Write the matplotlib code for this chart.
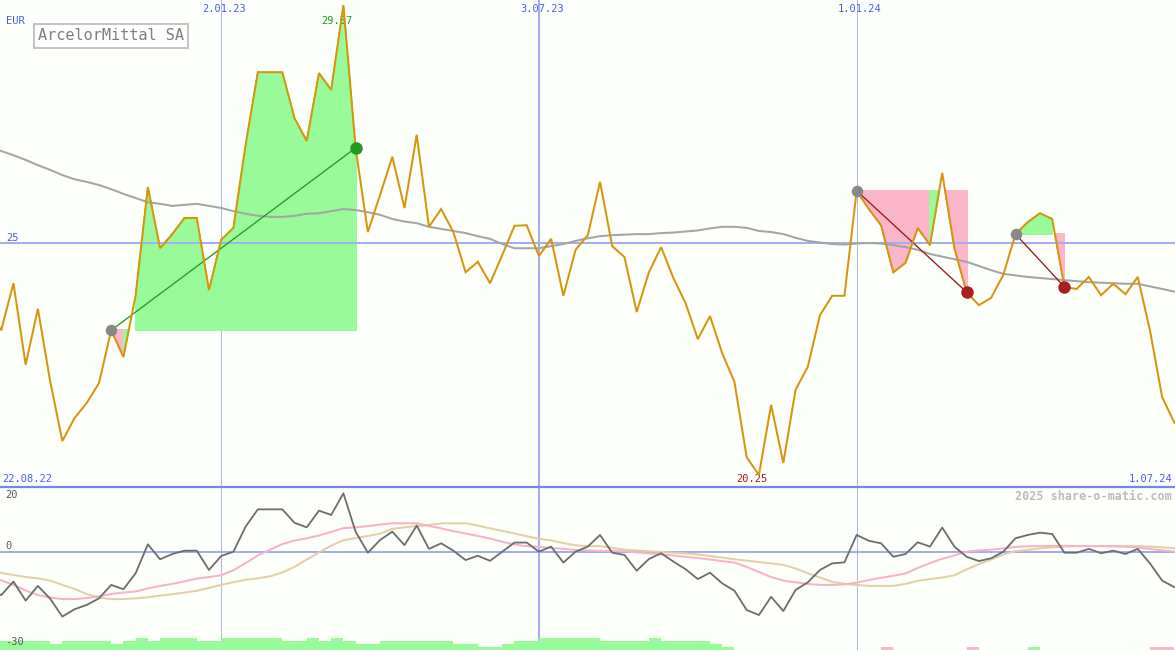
import matplotlib
matplotlib.use("Agg")
import matplotlib.pyplot as plt
import numpy as np
import pandas as pd
from matplotlib.lines import Line2D
from matplotlib.transforms import blended_transform_factory, offset_copy

# ---------------- data ----------------
dates = pd.date_range("2022-08-22", periods=98, freq="7D")

price = [23.70, 23.33, 24.23, 22.67, 23.74, 22.36, 21.21, 21.65, 21.94, 22.32,
         23.33, 22.82, 24.00, 26.07, 24.90, 25.17, 25.48, 25.48, 24.10, 25.06,
         25.29, 26.88, 28.27, 28.27, 28.27, 27.39, 26.95, 28.25, 27.93, 29.55,
         26.82, 25.21, 25.92, 26.65, 25.67, 27.07, 25.31, 25.65, 25.21, 24.44,
         24.64, 24.23, 24.77, 25.33, 25.34, 24.75, 25.08, 23.99, 24.87, 25.15,
         26.17, 24.94, 24.73, 23.68, 24.44, 24.92, 24.33, 23.85, 23.16, 23.60,
         22.89, 22.34, 20.90, 20.56, 21.90, 20.79, 22.19, 22.63, 23.62, 23.99,
         23.99, 26.00, 25.65, 25.34, 24.44, 24.62, 25.29, 24.96, 26.34, 24.90,
         24.06, 23.81, 23.95, 24.39, 25.17, 25.40, 25.57, 25.46, 24.16, 24.12,
         24.35, 24.00, 24.22, 24.02, 24.35, 23.33, 22.05, 21.56]

moving_avg = [26.84, 26.76, 26.68, 26.59, 26.49, 26.40, 26.30, 26.22, 26.17, 26.11,
              26.03, 25.94, 25.86, 25.78, 25.75, 25.71, 25.73, 25.75, 25.71, 25.67,
              25.61, 25.56, 25.52, 25.50, 25.50, 25.52, 25.56, 25.57, 25.61, 25.65,
              25.63, 25.59, 25.54, 25.46, 25.41, 25.38, 25.31, 25.27, 25.23, 25.19,
              25.13, 25.08, 24.98, 24.90, 24.90, 24.90, 24.94, 24.98, 25.04, 25.09,
              25.13, 25.15, 25.16, 25.17, 25.17, 25.19, 25.20, 25.22, 25.24, 25.28,
              25.31, 25.31, 25.29, 25.23, 25.21, 25.17, 25.10, 25.04, 25.01, 24.98,
              24.97, 24.99, 25.00, 24.99, 24.96, 24.92, 24.87, 24.79, 24.74, 24.69,
              24.64, 24.56, 24.48, 24.41, 24.38, 24.35, 24.33, 24.31, 24.29, 24.27,
              24.25, 24.24, 24.23, 24.22, 24.22, 24.17, 24.12, 24.07]

osc_gray = [-15.1, -17.1, -11.8, -19.3, -13.5, -18.5, -25.6, -22.7, -21.0, -18.4,
            -13.1, -14.8, -8.5, 2.9, -3.0, -0.9, 0.4, 0.4, -7.2, -1.7,
            0.0, 9.9, 16.7, 16.7, 16.7, 11.4, 9.6, 16.2, 14.5, 23.0,
            7.9, -0.4, 4.6, 7.9, 2.6, 10.3, 1.1, 3.3, 0.4, -3.3,
            -1.6, -3.6, 0.0, 3.6, 3.6, 0.0, 2.0, -4.3, 0.0, 2.0,
            6.6, -0.4, -1.3, -7.5, -2.9, -0.6, -3.9, -6.9, -10.8, -8.3,
            -12.5, -15.4, -23.0, -25.0, -17.8, -23.4, -15.1, -12.1, -7.2, -4.6,
            -4.2, 6.6, 4.3, 3.3, -2.0, -0.9, 3.7, 2.0, 9.5, 2.0,
            -2.0, -3.7, -2.6, 0.0, 5.3, 6.6, 7.5, 7.0, -0.4, -0.4,
            1.1, -0.6, 0.4, -0.9, 1.1, -4.6, -11.4, -14.0]

osc_pink = [-10.0, -11.3, -13.1, -15.3, -17.1, -18.1, -18.7, -18.7, -18.3, -17.6,
            -16.7, -16.1, -15.7, -14.5, -13.5, -12.7, -11.7, -10.6, -10.0, -9.3,
            -7.3, -4.5, -1.5, 0.8, 3.0, 4.4, 5.3, 6.4, 7.8, 9.3,
            9.6, 10.1, 10.7, 11.2, 11.2, 11.2, 10.2, 9.2, 8.1, 7.2,
            6.2, 5.2, 3.9, 2.8, 2.2, 1.9, 1.5, 1.1, 0.7, 0.5,
            0.3, 0.3, 0.2, -0.3, -0.7, -1.1, -1.5, -2.0, -2.5, -3.1,
            -3.7, -4.3, -6.0, -8.0, -10.0, -11.4, -12.1, -12.7, -13.1, -13.1,
            -12.9, -12.2, -11.2, -10.3, -9.5, -8.6, -6.4, -4.5, -2.8, -1.5,
            0.0, 0.5, 0.8, 1.3, 1.9, 2.1, 2.2, 2.3, 2.3, 2.2,
            2.2, 2.2, 2.1, 2.0, 1.7, 1.1, 0.5, 0.0]

osc_tan = [-7.4, -8.4, -9.2, -10.0, -10.5, -11.4, -13.1, -14.7, -16.7, -18.1,
           -18.7, -18.7, -18.4, -18.0, -17.3, -16.8, -16.1, -15.4, -14.3, -13.1,
           -12.0, -11.1, -10.5, -9.7, -8.2, -6.0, -3.1, -0.3, 2.4, 4.5,
           5.4, 6.2, 7.1, 9.0, 9.6, 10.1, 10.5, 11.2, 11.2, 11.2,
           10.3, 9.2, 8.2, 7.2, 6.1, 5.1, 4.4, 3.4, 2.5, 2.2,
           2.2, 1.5, 0.8, 0.5, 0.2, -0.1, -0.4, -0.7, -1.1, -1.7,
           -2.3, -3.0, -3.5, -4.1, -4.6, -5.2, -6.6, -8.5, -10.2, -11.9,
           -12.7, -13.1, -13.5, -13.5, -13.5, -12.7, -11.5, -10.8, -10.2, -9.3,
           -7.0, -4.9, -3.1, -1.1, 0.2, 0.7, 1.3, 1.7, 2.0, 2.2,
           2.2, 2.2, 2.2, 2.2, 2.2, 2.0, 1.7, 1.4]

signal_bars = [3, 3, 3, 3, 3, 2, 3, 3, 3, 3,
               2, 3, 4, 3, 4, 4, 4, 3, 3, 4,
               4, 4, 4, 4, 3, 3, 4, 3, 4, 3,
               2, 2, 3, 3, 3, 3, 3, 3, 2, 2,
               1, 1, 2, 3, 3, 4, 4, 4, 4, 4,
               3, 3, 3, 3, 4, 3, 3, 3, 3, 2,
               1, 0, 0, 0, 0, 0, 0, 0, 0, 0,
               0, 0, 0, -1, 0, 0, 0, 0, 0, 0,
               -1, 0, 0, 0, 0, 1, 0, 0, 0, 0,
               0, 0, 0, 0, 0, -1, -1, 0]

trade_entries = [10, 71, 84]
trade_exits = [30, 80, 88]

title = "ArcelorMittal SA"
currency = "EUR"
ref_level = 25
high_value = 29.57
low_value = 20.25
marker_dates = ["2023-01-02", "2023-07-03", "2024-01-01"]
osc_labels = [20, 0]
osc_bottom_label = "-30"
watermark = "2025 share-o-matic.com"

# ---------------- style ----------------
W, H = 1175, 650
BG = "#fcfffa"
BLUE_TXT = "#4b5cf0"
GRID_BLUE = "#a3adf2"
SEP_BLUE = "#7585ea"
THIN_V = "#b4b8d8"
PRICE_C = "#d8940a"
MA_C = "#a4a4a4"
GREEN_F = "#98fa98"
PINK_F = "#fbb6ca"
MONO = "DejaVu Sans Mono"
PX = 0.72  # points per pixel at 100 dpi

fig = plt.figure(figsize=(W / 100, H / 100), dpi=100)
fig.patch.set_facecolor(BG)

n = len(price)
x = np.arange(n)
p = np.array(price)

LOW_H = 163
ax1 = fig.add_axes([0, LOW_H / H, 1, 1 - LOW_H / H])
ax2 = fig.add_axes([0, 0, 1, LOW_H / H])
ax3 = ax2.twinx()
for a in (ax1, ax2, ax3):
    a.set_axis_off()
    a.set_xlim(0.9, n - 1 + 0.05)

ax1.set_ylim(20.33, 29.651)
ax2.set_ylim(-38.78, 25.52)
ax3.set_ylim(0, LOW_H / 3.0)

idx = {d: int(np.argmin(np.abs((dates - pd.Timestamp(d)).days))) for d in marker_dates}

# vertical date lines
for d in marker_dates:
    i = idx[d]
    half_year = pd.Timestamp(d).month == 7
    for a in (ax1, ax2):
        a.axvline(i, color=GRID_BLUE if half_year else THIN_V,
                  lw=(2 if half_year else 1) * PX, zorder=1)

# trade fills (segment-wise, coloured by the segment's end relative to entry)
for s, e in zip(trade_entries, trade_exits):
    L = p[s]
    for i in range(s, e):
        a_, b_ = p[i] - L, p[i + 1] - L
        col = GREEN_F if b_ > 0 else PINK_F
        if a_ * b_ >= 0:
            poly_x = [i, i, i + 1, i + 1]
            poly_y = [L, p[i], p[i + 1], L]
        else:
            xc = i + a_ / (a_ - b_)
            if a_ < 0:
                poly_x = [i, i, xc]
                poly_y = [L, p[i], L]
            else:
                poly_x = [xc, i + 1, i + 1]
                poly_y = [L, p[i + 1], L]
        ax1.fill(poly_x, poly_y, facecolor=col, edgecolor=col, lw=0.6,
                 antialiased=False, zorder=2)

ax1.axhline(ref_level, color=GRID_BLUE, lw=2 * PX, zorder=3)
ax1.plot(x, moving_avg, color=MA_C, lw=2 * PX, zorder=4)

for s, e in zip(trade_entries, trade_exits):
    win = p[e] > p[s]
    c = "#229a22" if win else "#9a1515"
    ax1.plot([s, e], [p[s], p[e]], color=c, lw=1.3 * PX, zorder=5)

ax1.plot(x, p, color=PRICE_C, lw=2 * PX, zorder=6, solid_joinstyle="miter")

for s, e in zip(trade_entries, trade_exits):
    win = p[e] > p[s]
    ax1.plot(s, p[s], "o", ms=11.5 * PX, color="#888888", mew=0, zorder=7)
    ax1.plot(e, p[e], "o", ms=12.5 * PX, color="#229a22" if win else "#a82020",
             mew=0, zorder=7)

# separator line between panels
fig.add_artist(Line2D([0, 1], [LOW_H / H, LOW_H / H], color=SEP_BLUE,
                      lw=2.2 * PX, zorder=10))

# ---------------- lower panel ----------------
ax2.axhline(0, color=GRID_BLUE, lw=2 * PX, zorder=2)
ax2.plot(x, osc_tan, color="#e3cfa2", lw=2 * PX, zorder=3)
ax2.plot(x, osc_pink, color="#f8b2c8", lw=2 * PX, zorder=4)
ax2.plot(x, osc_gray, color="#6c6c6c", lw=1.8 * PX, zorder=5)

sb = np.array(signal_bars)
bar_cols = [GREEN_F if v > 0 else PINK_F for v in sb]
ax3.bar(x, np.abs(sb), width=1.0, align="edge", color=bar_cols, lw=0,
        antialiased=False, zorder=1)

# ---------------- texts ----------------
def ftext(px, py, s, **kw):
    fig.text(px / W, 1 - py / H, s, family=MONO, **kw)

ftext(6, 21.5, currency, color=BLUE_TXT, size=7.5, va="center")

fig.text(38 / W, 1 - 36 / H, title, family=MONO, size=11, color="#7e7e7e",
         va="center", ha="left",
         bbox=dict(boxstyle="square,pad=0.28", fc="#ffffff", ec="#c4c4c4",
                   lw=2 * PX))

trT = blended_transform_factory(ax1.transData, ax1.transAxes)
for d in marker_dates:
    lab = pd.Timestamp(d)
    s = f"{lab.day}.{lab.month:02d}.{lab.strftime('%y')}"
    ax1.text(idx[d], 1 - 9 / 487, s, transform=offset_copy(trT, fig=fig, x=3, units="dots"),
             ha="center", va="center", color=BLUE_TXT, size=7.5, family=MONO)

trY = blended_transform_factory(ax1.transAxes, ax1.transData)
ax1.text(6 / W, ref_level, str(ref_level),
         transform=offset_copy(trY, fig=fig, y=2, units="dots"),
         ha="left", va="baseline", color=BLUE_TXT, size=7.5, family=MONO)

i_hi = int(np.argmax(p))
i_lo = int(np.argmin(p))
ax1.text(i_hi, 1 - 21 / 487, f"{high_value:.2f}",
         transform=offset_copy(trT, fig=fig, x=-7, units="dots"),
         ha="center", va="center", color="#1f9a1f", size=7.5, family=MONO)
ax1.text(i_lo, 1 - 479 / 487, f"{low_value:.2f}",
         transform=offset_copy(trT, fig=fig, x=-7, units="dots"),
         ha="center", va="center", color="#a01c1c", size=7.5, family=MONO)

d0, d1 = dates[0], dates[-1]
ftext(2, 479, f"{d0.day}.{d0.month:02d}.{d0.strftime('%y')}", color=BLUE_TXT,
      size=7.5, va="center", ha="left")
ftext(1172, 479, f"{d1.day}.{d1.month:02d}.{d1.strftime('%y')}", color=BLUE_TXT,
      size=7.5, va="center", ha="right")

ftext(1172, 496, watermark, color="#bcbcbc", size=8.5, weight="bold",
      va="center", ha="right")

trY2 = blended_transform_factory(ax2.transAxes, ax2.transData)
for v in osc_labels:
    ax2.text(5 / W, v, str(v), transform=offset_copy(trY2, fig=fig, y=3, units="dots"),
             ha="left", va="baseline", color="#5a5a5a", size=7.5, family=MONO)
ftext(5, 642, osc_bottom_label, color="#5a5a5a", size=7.5, va="center", ha="left")

fig.savefig("out.png", dpi=100, facecolor=BG)
